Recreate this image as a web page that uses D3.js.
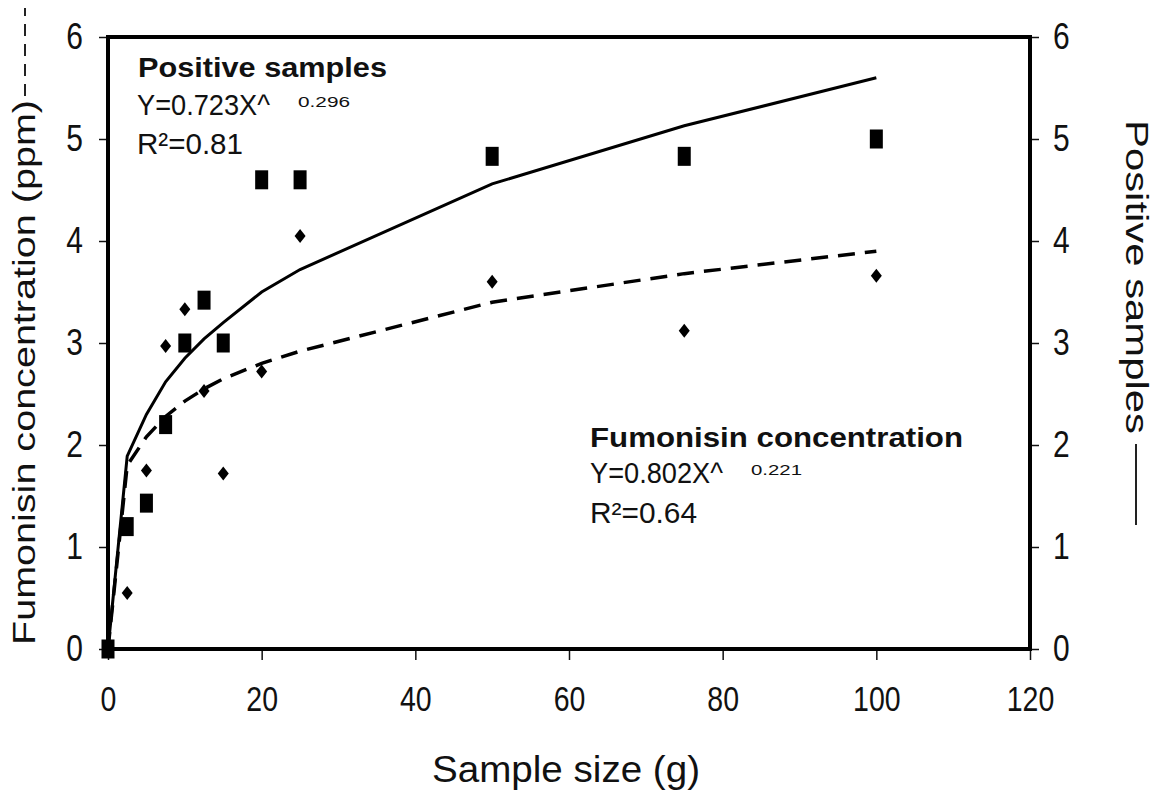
<!DOCTYPE html>
<html>
<head>
<meta charset="utf-8">
<script src="https://cdn.jsdelivr.net/npm/d3@7"></script>
<style>
  body { margin: 0; background: #fff; }
  svg { display: block; font-family: "Liberation Sans", Arial, sans-serif; }
  .axis path, .axis line { stroke: #111; }
</style>
</head>
<body>
<svg id="chart" width="1161" height="796"></svg>
<script>
// values
var sampleSize = [0, 2.5, 5, 7.5, 10, 12.5, 15, 20, 25, 50, 75, 100];
var positiveSamples = [0, 1.2, 1.43, 2.2, 3.0, 3.42, 3.0, 4.6, 4.6, 4.83, 4.83, 5.0];
var fumonisinConc = [0, 0.55, 1.75, 2.97, 3.33, 2.53, 1.72, 2.72, 4.05, 3.6, 3.12, 3.66];
// trend lines as drawn (power fits evaluated at the sample sizes)
var positiveTrend = [0, 1.89, 2.3, 2.62, 2.85, 3.04, 3.2, 3.5, 3.72, 4.56, 5.13, 5.6];
var fumonisinTrend = [0, 1.8, 2.08, 2.28, 2.43, 2.55, 2.65, 2.8, 2.92, 3.4, 3.68, 3.9];

var xTicks = [0, 20, 40, 60, 80, 100, 120];
var yTicks = [0, 1, 2, 3, 4, 5, 6];

var svg = d3.select("#chart");
var plotLeft = 108, plotRight = 1030, plotTop = 37, plotBottom = 649;

var x = d3.scaleLinear().domain([0, 120]).range([plotLeft, plotRight]);
var y = d3.scaleLinear().domain([0, 6]).range([plotBottom, plotTop]);

function styleTicks(g, sx, sy) {
  g.select(".domain").remove();
  g.selectAll(".tick line").attr("stroke-width", 1.5);
  g.selectAll(".tick text")
    .attr("fill", "#111")
    .style("font-size", "30px")
    .attr("transform", "scale(" + sx + "," + sy + ")");
}

// axes
svg.append("g")
  .attr("class", "axis")
  .attr("transform", "translate(0," + plotBottom + ")")
  .call(d3.axisBottom(x).tickValues(xTicks).tickSize(11).tickPadding(19))
  .call(styleTicks, 0.95, 1.2);

svg.append("g")
  .attr("class", "axis")
  .attr("transform", "translate(" + plotLeft + ",0)")
  .call(d3.axisLeft(y).tickValues(yTicks).tickFormat(d3.format("d")).tickSize(9).tickPadding(16))
  .call(styleTicks, 1.0, 1.2);

svg.append("g")
  .attr("class", "axis")
  .attr("transform", "translate(" + plotRight + ",0)")
  .call(d3.axisRight(y).tickValues(yTicks).tickFormat(d3.format("d")).tickSize(9).tickPadding(14))
  .call(styleTicks, 1.0, 1.2);

// frame
svg.append("rect")
  .attr("x", plotLeft)
  .attr("y", plotTop)
  .attr("width", plotRight - plotLeft)
  .attr("height", plotBottom - plotTop)
  .attr("fill", "none")
  .attr("stroke", "#000")
  .attr("stroke-width", 4);

var line = d3.line()
  .x(function(d) { return x(d[0]); })
  .y(function(d) { return y(d[1]); });

// trend lines
svg.append("path")
  .datum(d3.zip(sampleSize, positiveTrend))
  .attr("d", line)
  .attr("fill", "none")
  .attr("stroke", "#000")
  .attr("stroke-width", 3);

svg.append("path")
  .datum(d3.zip(sampleSize, fumonisinTrend))
  .attr("d", line)
  .attr("fill", "none")
  .attr("stroke", "#000")
  .attr("stroke-width", 3.5)
  .attr("stroke-dasharray", "17,10");

// positive samples: squares
svg.append("g")
  .selectAll("rect")
  .data(d3.zip(sampleSize, positiveSamples))
  .enter()
  .append("rect")
  .attr("x", function(d) { return x(d[0]) - 6.5; })
  .attr("y", function(d) { return y(d[1]) - 9.5; })
  .attr("width", 13)
  .attr("height", 19)
  .attr("fill", "#000");

// fumonisin: diamonds
svg.append("g")
  .selectAll("path")
  .data(d3.zip(sampleSize, fumonisinConc))
  .enter()
  .append("path")
  .attr("transform", function(d) {
    return "translate(" + x(d[0]) + "," + y(d[1]) + ")";
  })
  .attr("d", "M0,-7L5.5,0L0,7L-5.5,0Z")
  .attr("fill", "#000");

function addText(px, py, str, size, len, weight, rot, sy) {
  var tf = "translate(" + px + "," + py + ")";
  if (sy) tf += " scale(1," + sy + ")";
  if (rot) tf += " rotate(" + rot + ")";
  var t = svg.append("text")
    .attr("transform", tf)
    .style("font-size", size + "px")
    .attr("fill", "#111")
    .text(str);
  if (weight) t.style("font-weight", weight);
  if (len) t.attr("textLength", len).attr("lengthAdjust", "spacingAndGlyphs");
  return t;
}

// annotations
addText(138, 77, "Positive samples", 28, 249, "bold");
addText(137, 115, "Y=0.723X^", 30, 133);
addText(298, 107, "0.296", 14, 52);
addText(137, 154, "R\u00b2=0.81", 30, 106);

addText(590, 447, "Fumonisin concentration", 27, 373, "bold");
addText(590, 483, "Y=0.802X^", 29, 133);
addText(751, 475, "0.221", 14, 51);
addText(590, 523, "R\u00b2=0.64", 29, 107);

// axis titles
addText(432, 782, "Sample size (g)", 33, 268, null, null, 1.12);
addText(35, 645, "Fumonisin concentration (ppm)", 31, 545, null, -90);
svg.append("line")
  .attr("x1", 25).attr("x2", 25)
  .attr("y1", 96).attr("y2", 8)
  .attr("stroke", "#222")
  .attr("stroke-width", 2)
  .attr("stroke-dasharray", "12,8");

addText(1126, 120, "Positive samples", 31, 314, null, 90);
svg.append("line")
  .attr("x1", 1136).attr("x2", 1136)
  .attr("y1", 444).attr("y2", 525)
  .attr("stroke", "#222")
  .attr("stroke-width", 2);
</script>
</body>
</html>
